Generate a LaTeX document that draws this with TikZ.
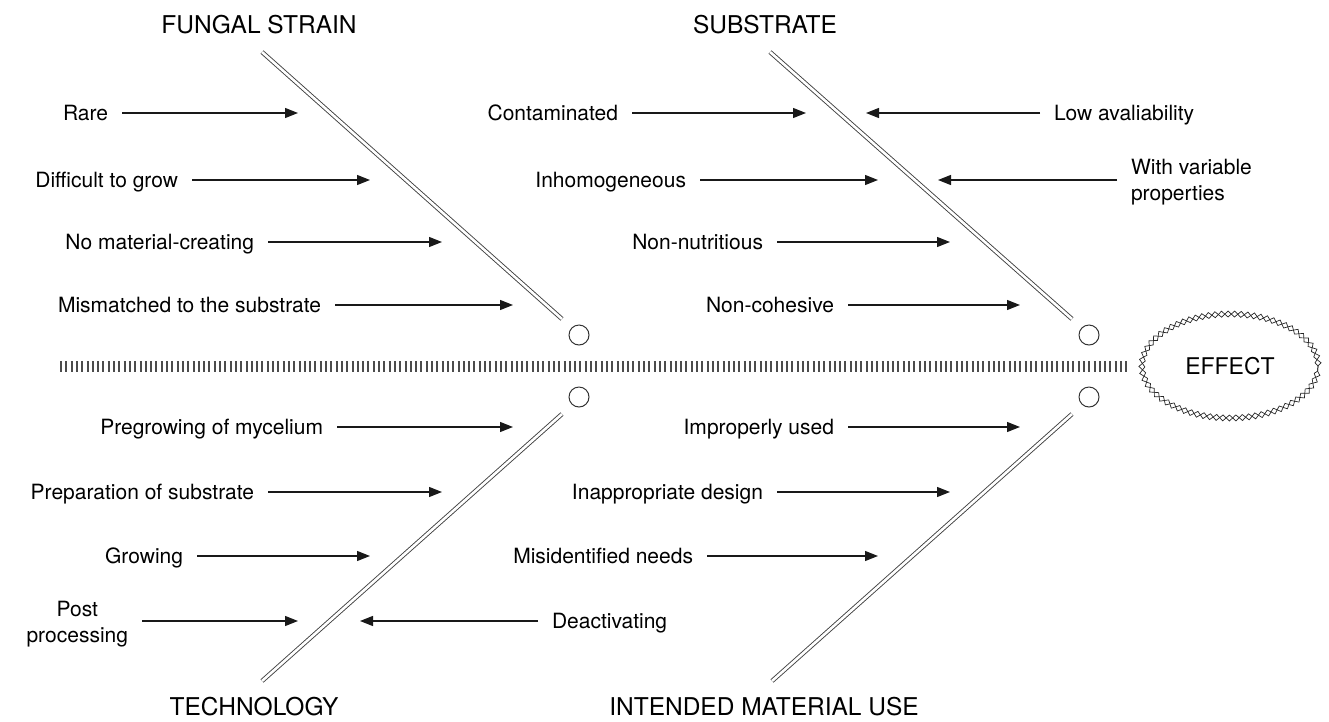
\documentclass[tikz,border=0pt]{standalone}
\usepackage{fontspec}
\setmainfont{TeX Gyre Heros}
\usetikzlibrary{arrows.meta, decorations.pathmorphing, shapes.geometric}

\begin{document}
\begin{tikzpicture}[x=1pt, y=-1pt,
  bone/.style={draw=black!75, line width=0.9pt, double=white, double distance=2.6pt},
  arr/.style={draw=black!90, line width=1.3pt, -{Triangle[length=13pt,width=10pt]}},
  cause/.style={font=\fontsize{21}{25}\selectfont, inner sep=0pt, outer xsep=14pt, text height=15pt, text depth=0pt},
  cause2/.style={font=\fontsize{21}{26}\selectfont, inner sep=0pt, outer xsep=14pt},
  head/.style={font=\fontsize{24.5}{28}\selectfont, inner sep=0pt, anchor=base},
  joint/.style={circle, draw=black!80, line width=1pt, minimum size=20pt, inner sep=0pt},
  spine/.style={draw=black!70, line width=11pt, dash pattern=on 2pt off 3.3pt},
  zz/.style={draw=black!85, line width=0.7pt, decorate, decoration={zigzag, segment length=13pt, amplitude=3pt}},
]
\useasboundingbox (0,0) rectangle (1329,721);

% category headings
\node[head] (hFS) at (259,33) {FUNGAL STRAIN};
\node[head] (hSB) at (765,33) {SUBSTRATE};
\node[head] (hTC) at (254,715) {TECHNOLOGY};
\node[head] (hIM) at (764,715) {INTENDED MATERIAL USE};

% effect head with a chain-of-diamonds outline
\node[font=\fontsize{23}{26}\selectfont, ellipse, minimum width=176pt, minimum height=104pt, inner sep=0pt] (effect) at (1230,366) {EFFECT};
\draw[zz] (effect.center) ellipse [x radius=88pt, y radius=52pt];
\draw[zz, decoration={mirror}] (effect.center) ellipse [x radius=88pt, y radius=52pt];

% spine
\coordinate (sp0) at (60,366);
\draw[spine] (sp0) -- ([xshift=-12pt]effect.west);

% joints
\node[joint] (j1) at (579,335) {};
\node[joint] (j2) at (579,397) {};
\node[joint] (j3) at (1089,335) {};
\node[joint] (j4) at (1089,397) {};

% bones
\coordinate (fsA) at (262,52);  \coordinate (fsB) at (562,319);
\coordinate (sbA) at (770,52);  \coordinate (sbB) at (1072,319);
\coordinate (tcA) at (262,681); \coordinate (tcB) at (562,414);
\coordinate (imA) at (772,681); \coordinate (imB) at (1072,414);
\draw[bone] (fsA) -- (fsB);
\draw[bone] (sbA) -- (sbB);
\draw[bone] (tcA) -- (tcB);
\draw[bone] (imA) -- (imB);

% fungal strain causes
\node[cause, anchor=east] (c1) at (122,113) {Rare};
\coordinate (t1) at (298,113);
\node[cause, anchor=east] (c2) at (192,180) {Difficult to grow};
\coordinate (t2) at (370,180);
\node[cause, anchor=east] (c3) at (268,242) {No material-creating};
\coordinate (t3) at (442,242);
\node[cause, anchor=east] (c4) at (335,305) {Mismatched to the substrate};
\coordinate (t4) at (513,305);
\draw[arr] (c1) -- (t1);
\draw[arr] (c2) -- (t2);
\draw[arr] (c3) -- (t3);
\draw[arr] (c4) -- (t4);

% substrate causes
\node[cause, anchor=east] (c5) at (632,113) {Contaminated};
\coordinate (t5) at (806,113);
\node[cause, anchor=west] (c6) at (1040,113) {Low avaliability};
\coordinate (t6) at (866,113);
\node[cause, anchor=east] (c7) at (700,180) {Inhomogeneous};
\coordinate (t7) at (878,180);
\node[cause2, anchor=west, align=left] (c8) at (1117,182) {With variable\\properties};
\coordinate (t8) at (938,180);
\node[cause, anchor=east] (c9) at (777,242) {Non-nutritious};
\coordinate (t9) at (950,242);
\node[cause, anchor=east] (c10) at (848,305) {Non-cohesive};
\coordinate (t10) at (1020,305);
\draw[arr] (c5) -- (t5);
\draw[arr] (c6) -- (t6);
\draw[arr] (c7) -- (t7);
\draw[arr] (c8.west |- t8) -- (t8);
\draw[arr] (c9) -- (t9);
\draw[arr] (c10) -- (t10);

% technology causes
\node[cause, anchor=east] (c11) at (337,427) {Pregrowing of mycelium};
\coordinate (t11) at (513,427);
\node[cause, anchor=east] (c12) at (268,492) {Preparation of substrate};
\coordinate (t12) at (442,492);
\node[cause, anchor=east] (c13) at (197,556) {Growing};
\coordinate (t13) at (370,556);
\node[cause2, anchor=east, align=center] (c14) at (142,624) {Post\\processing};
\coordinate (t14) at (298,621);
\node[cause, anchor=west] (c15) at (538,621) {Deactivating};
\coordinate (t15) at (360,621);
\draw[arr] (c11) -- (t11);
\draw[arr] (c12) -- (t12);
\draw[arr] (c13) -- (t13);
\draw[arr] (c14.east |- t14) -- (t14);
\draw[arr] (c15) -- (t15);

% intended material use causes
\node[cause, anchor=east] (c16) at (848,427) {Improperly used};
\coordinate (t16) at (1020,427);
\node[cause, anchor=east] (c17) at (777,492) {Inappropriate design};
\coordinate (t17) at (950,492);
\node[cause, anchor=east] (c18) at (707,556) {Misidentified needs};
\coordinate (t18) at (878,556);
\draw[arr] (c16) -- (t16);
\draw[arr] (c17) -- (t17);
\draw[arr] (c18) -- (t18);
\end{tikzpicture}
\end{document}
